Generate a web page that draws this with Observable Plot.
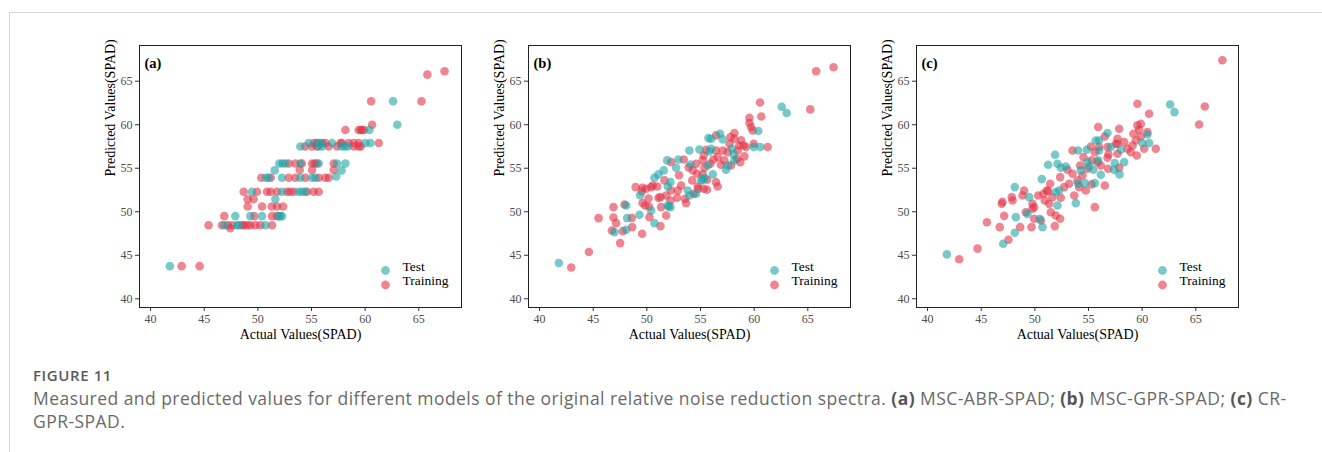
<!DOCTYPE html>
<html><head><meta charset="utf-8">
<script src="https://cdn.jsdelivr.net/npm/d3@7"></script>
<script src="https://cdn.jsdelivr.net/npm/@observablehq/plot@0.6"></script>
<style>
body{margin:0;background:#fff;width:1322px;height:452px;overflow:hidden;position:relative;font-family:"Open Sans",sans-serif}
#box{position:absolute;left:9px;top:12px;right:-2px;bottom:-2px;border-left:1px solid #d6d6d6;border-top:1px solid #d6d6d6}
.panel{position:absolute;top:35px;color:#333}
.panel svg{overflow:visible}
#cap{position:absolute;left:33px;top:366px;width:1285px;color:#6a6a6a;font-variant-ligatures:none}
#fig{font-size:15px;font-weight:600;color:#5a5a5a;line-height:18px;letter-spacing:0.6px}
#txt{font-size:17.5px;line-height:23px;margin-top:3px;letter-spacing:0.45px;white-space:nowrap}
#txt b{font-weight:700;color:#555}
</style></head>
<body>
<div id="box"></div>
<div id="pa" class="panel" style="left:95px"></div>
<div id="pb" class="panel" style="left:484px"></div>
<div id="pc" class="panel" style="left:872px"></div>
<div id="cap"><div id="fig">FIGURE 11</div><div id="txt">Measured and predicted values for different models of the original relative noise reduction spectra. <b>(a)</b> MSC-ABR-SPAD; <b>(b)</b> MSC-GPR-SPAD; <b>(c)</b> CR-<br>GPR-SPAD.</div></div>
<script>
// ---- data: [actual, predicted] ----
const groups = ["Test", "Training"];
const xTicks = [40, 45, 50, 55, 60, 65];
const yTicks = [40, 45, 50, 55, 60, 65];
const panelLabels = ["(a)", "(b)", "(c)"];
const xLabel = "Actual Values(SPAD)";
const yLabel = "Predicted Values(SPAD)";

const aTest = [[41.8,43.75],[62.6,62.7],[63.0,60.0],[60.4,59.4],
 [54.74,57.9],[55.82,57.9],[56.92,57.9],[60.02,57.9],[60.49,57.9],[55.6,57.9],
 [53.96,57.5],[55.98,57.5],[55.67,57.5],[58.1,57.5],[58.38,57.5],[57.8,57.5],
 [52.0,55.55],[52.57,55.55],[53.96,55.55],[55.67,55.55],[57.38,55.55],[58.16,55.55],[52.3,55.55],
 [51.57,54.75],[57.8,54.75],[57.3,54.05],
 [50.76,53.9],[51.0,53.9],[52.25,53.9],[53.96,53.9],[55.05,53.9],[55.36,53.9],
 [49.45,52.3],[52.25,52.3],[53.8,52.3],[54.1,52.3],[54.4,52.3],
 [51.63,51.46],
 [47.9,49.5],[49.3,49.5],[50.39,49.5],[51.94,49.5],[52.25,49.5],[52.1,49.5],
 [46.9,48.45],[48.05,48.45],[48.2,48.45],[50.7,48.45]];
const aTrain = [[42.9,43.75],[44.57,43.75],
 [60.56,62.7],[65.25,62.7],[65.8,65.75],[67.4,66.15],[60.65,60.0],
 [58.16,59.4],[59.4,59.4],[59.6,59.4],[59.9,59.4],[59.7,59.4],
 [55.21,57.9],[56.3,57.9],[57.85,57.9],[58.47,57.9],[58.94,57.9],[61.27,57.9],[56.0,57.9],[59.4,57.9],[57.7,57.9],[55.5,57.9],
 [55.05,57.5],[55.52,57.5],[56.6,57.5],[57.38,57.5],[58.94,57.5],[59.4,57.5],[54.4,57.5],[59.6,57.5],
 [52.88,55.55],[54.1,55.55],[55.05,55.55],[55.5,55.55],[57.07,55.55],[55.3,55.55],[53.5,55.55],
 [53.9,54.8],[55.05,54.8],[57.07,54.8],
 [50.32,53.9],[51.2,53.9],[52.88,53.9],[53.5,53.9],[54.43,53.9],[55.67,53.9],[56.29,53.9],[56.6,53.9],
 [48.68,52.3],[49.91,52.3],[50.85,52.3],[51.79,52.3],[52.72,52.3],[53.35,52.3],[54.58,52.3],[55.2,52.3],[55.67,52.3],[51.2,52.3],[53.0,52.3],
 [49.05,51.45],[49.6,51.45],
 [49.05,50.6],[50.39,50.6],[51.3,50.6],[51.79,50.6],[52.35,50.6],
 [46.87,49.5],[49.67,49.5],[51.32,49.5],[51.79,49.5],
 [45.41,48.45],[46.66,48.45],[47.2,48.45],[48.52,48.45],[49.3,48.45],[49.76,48.45],[50.23,48.45],[51.32,48.45],[47.6,48.45],[49.0,48.45],[48.7,48.45],
 [47.43,48.1]];

const bTest = [[41.8,44.12],[62.57,62.06],[63.03,61.34],
 [46.98,47.66],[48.07,50.72],[48.16,49.27],[48.07,47.93],[49.31,49.65],[49.37,51.91],[50.4,50.15],[50.71,48.69],
 [51.95,50.72],[52.2,50.53],[50.71,53.9],[51.08,54.29],[51.58,54.75],[51.89,55.9],[52.73,55.05],[52.94,56.01],
 [52.2,53.4],[51.95,52.9],[53.97,51.87],[53.81,52.45],[54.59,52.06],[54.06,55.43],[53.97,57.04],[54.9,57.16],
 [55.74,58.46],[56.82,58.96],[55.99,58.38],[57.07,58.31],[55.83,56.93],[55.99,57.24],[55.68,55.32],[56.14,54.29],
 [55.21,53.67],[55.05,53.6],[55.37,53.86],[57.38,54.82],[57.54,55.32],[58.16,55.9],[58.1,56.59],[57.91,57.24],
 [60.39,59.27],[59.96,57.43],[60.58,57.43],[52.04,50.6]];
const bTrain = [[42.95,43.6],[44.6,45.38],[45.5,49.27],[60.55,62.56],[60.67,60.95],[65.23,61.76],[65.78,66.15],[67.4,66.6],
 [47.51,46.4],[46.89,50.53],[46.89,49.34],[46.74,47.85],[47.14,48.69],[47.92,50.84],[48.6,49.3],[47.76,47.77],
 [48.63,48.23],[49.56,47.47],[48.95,52.83],[49.6,52.75],[50.15,51.53],[49.84,50.72],[50.24,49.38],[51.27,48.35],
 [51.33,50.53],[51.27,51.68],[51.8,51.87],[51.8,49.57],[52.2,51.3],[50.4,52.83],[50.96,52.9],[52.26,55.7],
 [53.44,56.01],[51.64,53.6],[52.26,52.45],[52.88,52.45],[52.82,51.6],[53.56,51.49],[54.37,52.06],[54.22,53.6],
 [54.74,52.9],[54.28,54.75],[54.59,55.51],[55.21,55.9],[55.3,56.47],[55.52,57.12],[56.45,58.77],[57.79,58.58],
 [58.16,59.04],[58.16,58.38],[57.7,57.81],[56.45,57.04],[56.61,56.28],[55.92,55.51],[55.37,55.05],[55.21,54.29],
 [55.61,53.67],[55.61,52.52],[56.45,53.4],[54.8,52.64],[54.68,54.36],[57.23,55.9],[57.85,55.32],[58.41,56.09],
 [58.47,57.04],[59.09,56.36],[59.03,57.62],[58.78,58.2],[59.56,60.8],[59.56,60.19],[59.71,59.73],[59.87,59.34],
 [59.96,57.81],[61.26,57.43],[59.24,57.43],[58.6,57.62],[57.07,57.04],[57.54,56.85],[55.3,52.64],[53.66,50.99],
 [51.08,51.6],[50.55,53.02],[49.53,52.37],[49.93,52.64],[49.6,51.0],[50.2,50.6],[53.0,54.2],[53.2,53.0],
 [56.2,56.0],[56.9,55.4],[58.7,55.7],[53.9,55.1],[56.6,52.9]];

const cTest = [[41.8,45.1],[62.61,62.33],[63.01,61.45],
 [47.05,46.32],[48.13,47.58],[48.23,49.38],[48.13,52.83],[49.31,49.76],[49.47,51.68],[50.46,49.19],[50.71,48.23],
 [50.65,53.75],[52.11,50.72],[52.26,52.45],[51.95,52.26],[51.24,55.4],[51.89,56.55],[52.11,55.51],[52.42,55.05],
 [52.89,55.2],[53.82,50.99],[54.03,53.21],[54.66,53.29],[55.59,53.29],[54.03,57.04],[54.84,57.12],[55.68,58.19],
 [55.98,58.19],[55.99,57.04],[56.77,59.04],[54.9,55.7],[55.06,55.2],[54.28,54.75],[55.46,54.82],[55.9,55.9],
 [56.15,54.25],[57.39,54.82],[57.45,55.59],[57.89,54.29],[57.08,57.43],[58.01,57.12],[58.32,55.7],[60.49,58.88],
 [60.02,57.89],[60.65,57.89]];
const cTrain = [[42.95,44.54],[44.66,45.76],[45.53,48.8],[59.56,62.41],[65.31,60.03],[65.84,62.1],[67.48,67.4],
 [46.73,48.23],[47.54,46.78],[47.14,49.53],[46.92,50.91],[46.98,51.14],[47.92,51.3],[47.85,51.68],[48.63,48.23],
 [49.69,48.23],[49.16,49.95],[49.0,52.45],[48.85,51.87],[49.78,50.91],[49.93,50.53],[49.78,50.34],[50.56,49.0],
 [50.31,51.87],[50.8,52.06],[51.11,52.45],[51.43,53.21],[51.33,50.91],[51.49,49.95],[51.86,48.35],[52.36,49.19],
 [52.42,51.6],[51.64,51.68],[52.73,52.83],[53.2,53.21],[52.36,53.98],[53.04,54.82],[53.51,54.36],[53.97,53.6],
 [53.67,51.87],[54.13,52.83],[54.75,52.45],[55.28,53.14],[55.59,50.53],[56.52,53.02],[53.51,57.04],[54.53,56.28],
 [55.22,57.5],[55.9,59.73],[55.99,57.43],[56.52,58.65],[55.59,56.85],[55.28,55.9],[54.22,55.32],[55.84,55.7],
 [56.15,55.32],[56.77,56.2],[56.83,54.94],[57.86,55.05],[57.7,56.66],[57.7,57.81],[57.86,59.54],[57.55,57.81],
 [58.32,58.0],[59.1,57.62],[58.63,57.24],[58.94,56.85],[59.5,56.47],[59.56,59.92],[59.88,60.11],[59.72,59.42],
 [60.49,59.15],[60.65,61.26],[60.19,57.24],[61.27,57.24],[59.88,58.65],[59.41,58.19],[59.19,58.96],[56.77,57.43],
 [57.7,58.38],[56.86,56.59],[54.44,54.17],[54.9,54.94],[51.24,52.37],[50.93,51.3],[51.95,49.57],[49.93,49.19]];

// ---- drawing ----
const serif = "'Liberation Serif','Times New Roman',serif";
const palette = ["#1FA5A6", "#E3354A"];
function panel(label, test, train) {
  const rows = [
    ...train.map(([a, p]) => ({a, p, g: "Training"})),
    ...test.map(([a, p]) => ({a, p, g: "Test"}))
  ];
  const legendMarks = groups.flatMap((g, i) => [
    Plot.dot([g], {frameAnchor: "bottom-right", dx: -76, dy: -37 + i * 14.5, fill: d => d, r: 4.4, fillOpacity: 0.6}),
    Plot.text([g], {frameAnchor: "bottom-right", dx: -59, dy: -37 + i * 14.5, text: d => d, textAnchor: "start", fontSize: 13.5, fill: "black"})
  ]);
  return Plot.plot({
    width: 389, height: 320,
    marginLeft: 44, marginRight: 23, marginTop: 10, marginBottom: 48,
    style: {fontFamily: serif, fontSize: "12px", background: "transparent"},
    x: {domain: [38.97, 68.98]},
    y: {domain: [39.0, 69.1]},
    color: {domain: groups, range: palette},
    marks: [
      Plot.axisX({ticks: xTicks, tickSize: 4, tickPadding: 3, label: null, fill: "#4d4d4d", fontSize: 12}),
      Plot.axisY({ticks: yTicks, tickSize: 4, tickPadding: 3, label: null, fill: "#4d4d4d", fontSize: 12}),
      Plot.dot(rows, {x: "a", y: "p", fill: "g", r: 4.3, fillOpacity: 0.6}),
      Plot.frame({stroke: "#222"}),
      Plot.text([label], {frameAnchor: "top-left", dx: 5, dy: 12, text: d => d, textAnchor: "start", fontWeight: "bold", fontSize: 14.5, fill: "black"}),
      Plot.text([xLabel], {frameAnchor: "bottom", dy: 31, text: d => d, fontSize: 14, fill: "black"}),
      Plot.text([yLabel], {frameAnchor: "left", dx: -29, rotate: -90, text: d => d, fontSize: 14, fill: "black"}),
      ...legendMarks
    ]
  });
}
document.getElementById("pa").append(panel(panelLabels[0], aTest, aTrain));
document.getElementById("pb").append(panel(panelLabels[1], bTest, bTrain));
document.getElementById("pc").append(panel(panelLabels[2], cTest, cTrain));
</script>
</body></html>
